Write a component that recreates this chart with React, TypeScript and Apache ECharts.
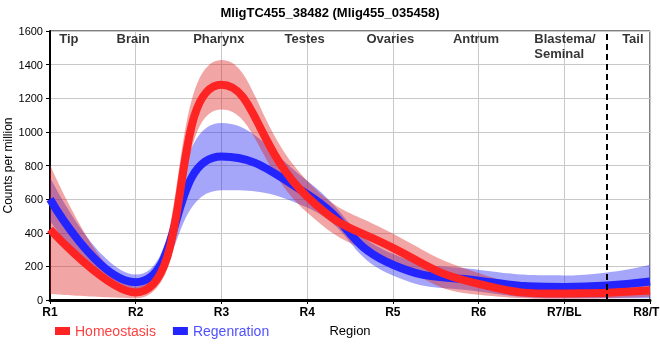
import React, { useEffect, useRef } from "react";
import * as echarts from "echarts";

const regionTicks = ["R1", "R2", "R3", "R4", "R5", "R6", "R7/BL", "R8/TL"];

const homeoMean = [420, 45, 1280, 615, 310, 96, 38, 56];
const homeoSd = [385, 35, 147, 95, 85, 65, 30, 36];
const regenMean = [600, 106, 853, 630, 210, 115, 78, 110];
const regenSd = [130, 45, 200, 80, 65, 65, 68, 100];

const tissueNames = ["Tip", "Brain", "Pharynx", "Testes", "Ovaries", "Antrum", "Blastema/\nSeminal", "Tail"];
const tissuePos = [0.22, 0.97, 1.97, 2.97, 3.97, 4.97, 5.65, 6.8];
const dividerPos = 6.5;

const FONT = "'Liberation Sans', Arial, sans-serif";
const RED = "#ff2424";
const BLUE = "#2424ff";

export default function App() {
  const ref = useRef<HTMLDivElement>(null);
  useEffect(() => {
    if (!ref.current) return;
    const chart = echarts.init(ref.current, null, { renderer: "svg" });
    const lower = (m: number[], s: number[]) => m.map((v, i) => v - s[i]);
    const width = (s: number[]) => s.map((v) => 2 * v);
    const SMOOTH = 0.5;
    const bandBase = (name: string, stack: string, data: number[]) => ({
      name,
      type: "line",
      stack,
      data,
      smooth: SMOOTH,
      symbol: "none",
      showSymbol: false,
      lineStyle: { opacity: 0, width: 0 },
      silent: true,
    });
    const bandFill = (name: string, stack: string, data: number[], color: string) => ({
      name,
      type: "line",
      stack,
      data,
      smooth: SMOOTH,
      symbol: "none",
      showSymbol: false,
      lineStyle: { opacity: 0, width: 0 },
      areaStyle: { color, opacity: 1 },
      silent: true,
    });
    const meanLine = (name: string, data: number[], color: string) => ({
      name,
      type: "line",
      data,
      smooth: SMOOTH,
      symbol: "none",
      showSymbol: false,
      lineStyle: { color, width: 8 },
      itemStyle: { color },
      silent: true,
    });

    chart.setOption({
      animation: false,
      textStyle: { fontFamily: FONT },
      title: {
        text: "MligTC455_38482 (Mlig455_035458)",
        left: "center",
        top: 1,
        textStyle: { fontSize: 13, fontWeight: "bold", color: "#000", fontFamily: FONT },
      },
      legend: {
        data: [
          { name: "Homeostasis", textStyle: { color: "#ff4040" } },
          { name: "Regenration", textStyle: { color: "#5050ff" } },
        ],
        left: 50,
        top: 319,
        icon: "rect",
        itemWidth: 15,
        itemHeight: 8,
        itemGap: 17,
        textStyle: { fontSize: 14, fontFamily: FONT },
        selectedMode: false,
      },
      grid: {
        left: 50,
        right: 10,
        top: 31,
        bottom: 60,
        show: true,
        borderColor: "#000",
        borderWidth: 1,
        outerBoundsMode: "none",
        containLabel: false,
      },
      xAxis: [
        {
          type: "category",
          data: regionTicks,
          boundaryGap: false,
          name: "Region",
          nameLocation: "middle",
          nameGap: 24,
          nameMoveOverlap: false,
          nameTextStyle: { fontSize: 13, color: "#000", fontFamily: FONT },
          axisLine: { show: true, lineStyle: { color: "#000", width: 3 } },
          axisTick: { show: true, length: 4, alignWithLabel: true, lineStyle: { color: "#000" } },
          axisLabel: {
            interval: 0,
            fontSize: 12,
            fontWeight: "bold",
            color: "#000",
            margin: 6,
            fontFamily: FONT,
          },
          splitLine: { show: true, interval: 0, lineStyle: { color: "#c8c8c8", width: 1 } },
        },
        {
          type: "value",
          min: 0,
          max: regionTicks.length - 1,
          show: false,
          splitLine: { show: false },
        },
      ],
      yAxis: {
        type: "value",
        min: 0,
        max: 1600,
        interval: 200,
        name: "Counts per million",
        nameLocation: "middle",
        nameGap: 36,
        nameMoveOverlap: false,
        nameTextStyle: { fontSize: 12, color: "#000", fontFamily: FONT },
        axisLine: { show: true, lineStyle: { color: "#000", width: 2 } },
        axisTick: { show: true, length: 4, lineStyle: { color: "#000" } },
        axisLabel: {
          fontSize: 11,
          color: "#000",
          margin: 7,
          fontFamily: FONT,
          formatter: (v: number) => String(v),
        },
        splitLine: { show: true, lineStyle: { color: "#c8c8c8", width: 1 } },
      },
      series: [
        bandBase("regenLow", "regen", lower(regenMean, regenSd)),
        bandFill("regenBand", "regen", width(regenSd), "rgba(30,30,240,0.4)"),
        meanLine("Regenration", regenMean, BLUE),
        bandBase("homeoLow", "homeo", lower(homeoMean, homeoSd)),
        bandFill("homeoBand", "homeo", width(homeoSd), "rgba(220,30,30,0.4)"),
        meanLine("Homeostasis", homeoMean, RED),
        {
          name: "tissues",
          type: "scatter",
          xAxisIndex: 1,
          silent: true,
          clip: false,
          symbolSize: 0,
          data: tissueNames.map((n, i) => ({
            value: [tissuePos[i], 1600],
            name: n,
            label: n.includes("\n") ? { align: "left" } : {},
          })),
          label: {
            show: true,
            position: "bottom",
            distance: 0,
            formatter: (p: any) => p.name,
            fontSize: 13,
            fontWeight: "bold",
            color: "#000",
            lineHeight: 15,
            fontFamily: FONT,
          },
          markLine: {
            silent: true,
            symbol: ["none", "none"],
            label: { show: false },
            lineStyle: { color: "#000", type: [6, 4], width: 2 },
            data: [{ xAxis: dividerPos }],
          },
          z: 10,
        },
      ],
    });
    return () => chart.dispose();
  }, []);
  return (
    <div
      ref={ref}
      style={{ position: "fixed", left: 0, top: 0, width: 660, height: 360 }}
    />
  );
}
